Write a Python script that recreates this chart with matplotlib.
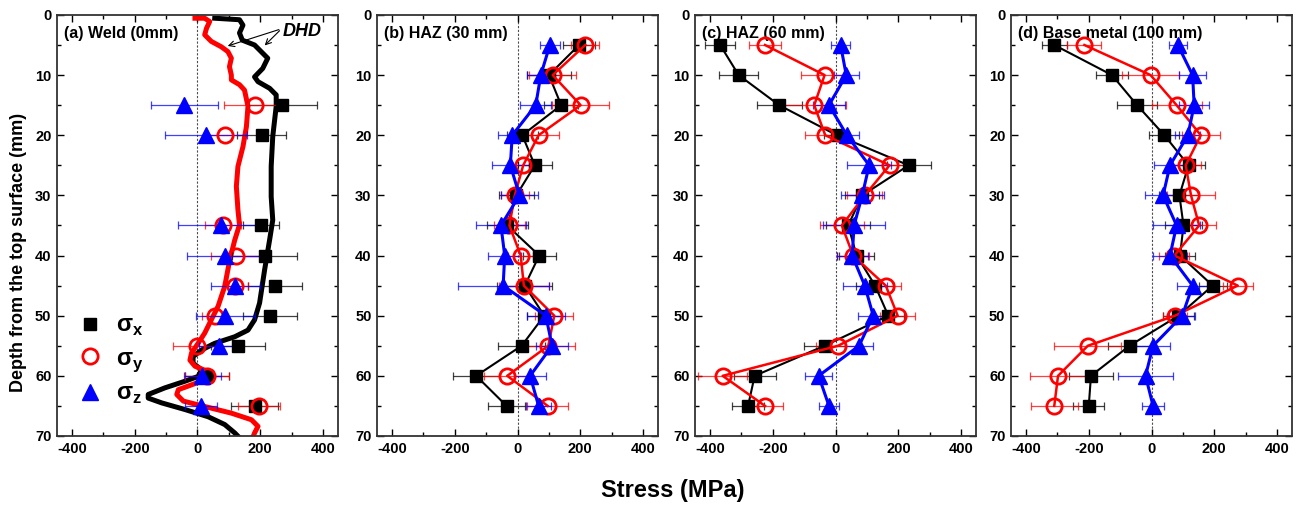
import numpy as np
import matplotlib
matplotlib.use("Agg")
import matplotlib.pyplot as plt
from matplotlib.lines import Line2D
from matplotlib.ticker import MultipleLocator

plt.rcParams['font.family'] = ['Liberation Sans', 'DejaVu Sans']
plt.rcParams['font.weight'] = 'bold'
plt.rcParams['axes.unicode_minus'] = False
plt.rcParams['mathtext.fontset'] = 'custom'
plt.rcParams['mathtext.rm'] = 'Liberation Sans'
plt.rcParams['mathtext.bf'] = 'Liberation Sans:bold'

# ---------------- data ----------------
depth = [5, 10, 15, 20, 25, 30, 35, 40, 45, 50, 55, 60, 65]
depth_a = [15, 20, 35, 40, 45, 50, 55, 60, 65]

# (a) Weld (0mm) - neutron points
a_sx = [270, 205, 203, 214, 248, 232, 129, 29, 182]
a_sx_err = [111, 78, 58, 104, 86, 86, 85, 70, 75]
a_sy = [185, 89, 81, 122, 121, 55, -3, 29, 196]
a_sy_err = [100, 60, 58, 80, 40, 40, 75, 70, 68]
a_sz = [-42, 26, 74, 87, 121, 89, 69, 16, 11]
a_sz_err = [106, 131, 136, 119, 77, 95, 65, 60, 50]

# (a) DHD curves
dhd_x_depth = [0.55, 0.8, 1.7, 3.0, 4.2, 5.0, 6.1, 7.2, 8.9, 10.3, 11.1, 12.2, 13.3, 15.2,
               20.2, 25.2, 30.2, 34.1, 37.4, 42.4, 47.9, 50.7, 52.4, 53.5, 54.6, 55.7, 56.8,
               57.9, 59.0, 60.1, 60.9, 62.0, 63.1, 63.7, 64.5, 65.6, 66.8, 68.1, 69.5, 70.3]
dhd_x = [55, 134, 145, 134, 143, 182, 203, 224, 208, 182, 193, 230, 251, 251,
         240, 235, 235, 240, 230, 214, 198, 182, 161, 119, 55, 13, -14,
         -14, 13, 2, -40, -104, -157, -157, -114, -40, 34, 87, 119, 134]
dhd_y_depth = [0.55, 0.55, 1.1, 2.2, 3.3, 4.4, 5.3, 6.1, 7.2, 8.6, 10.0, 10.8, 11.6, 12.5,
               15.2, 18.6, 21.9, 25.2, 28.5, 32.4, 34.9, 37.4, 40.7, 45.1, 48.4, 50.7, 52.9,
               54.6, 56.2, 57.4, 58.4, 59.3, 60.1, 60.7, 61.5, 62.3, 63.1, 64.2, 65.1, 66.2,
               67.3, 68.4, 69.5, 70.3]
dhd_y = [-8, 23, 39, 29, 23, 44, 76, 97, 108, 102, 108, 108, 134, 150,
         161, 156, 145, 129, 124, 129, 134, 119, 103, 87, 66, 44, 23,
         2, -19, -24, -8, 34, 50, 23, -19, -61, -66, -45, 23, 108,
         172, 193, 182, 176]

# (b) HAZ (30 mm)
b_sx = [196, 100, 139, 15, 55, -4, -33, 69, 23, 85, 13, -132, -35]
b_sx_err = [50, 70, 55, 50, 55, 55, 65, 52, 88, 55, 75, 75, 60]
b_sy = [216, 112, 201, 67, 18, -9, -26, 10, 20, 117, 98, -33, 96]
b_sy_err = [45, 75, 90, 65, 50, 45, 50, 40, 80, 60, 85, 75, 65]
b_sz = [103, 74, 58, -17, -23, 6, -53, -41, -46, 90, 110, 40, 67]
b_sz_err = [33, 45, 50, 45, 60, 60, 80, 52, 145, 60, 50, 50, 40]

# (c) HAZ (60 mm)
c_sx = [-368, -309, -180, 4, 233, 85, 40, 67, 126, 168, -35, -258, -279]
c_sx_err = [48, 62, 72, 40, 70, 55, 70, 55, 60, 50, 65, 67, 52]
c_sy = [-225, -35, -68, -33, 172, 93, 20, 56, 160, 198, 8, -360, -225]
c_sy_err = [50, 75, 100, 65, 60, 55, 70, 50, 50, 55, 70, 78, 58]
c_sz = [16, 34, -21, 36, 107, 85, 59, 53, 93, 120, 75, -54, -21]
c_sz_err = [30, 40, 50, 40, 70, 68, 100, 50, 70, 47, 45, 43, 32]

# (d) Base metal (100 mm)
d_sx = [-310, -126, -46, 41, 118, 89, 102, 91, 195, 86, -70, -193, -200]
d_sx_err = [40, 50, 63, 48, 53, 64, 58, 48, 45, 50, 68, 70, 50]
d_sy = [-214, -3, 80, 157, 109, 126, 152, 73, 275, 75, -203, -298, -310]
d_sy_err = [54, 90, 80, 60, 48, 78, 55, 48, 48, 38, 107, 88, 75]
d_sz = [84, 131, 136, 116, 59, 37, 80, 59, 131, 98, 5, -19, 5]
d_sz_err = [28, 43, 48, 40, 50, 57, 76, 54, 50, 42, 55, 87, 36]

titles = ['(a) Weld (0mm)', '(b) HAZ (30 mm)', '(c) HAZ (60 mm)', '(d) Base metal (100 mm)']

# ---------------- plot ----------------
fig = plt.figure(figsize=(13.06, 5.11), dpi=100)
lefts = [0.0436, 0.2887, 0.5322, 0.7741]
axes = [fig.add_axes([l, 0.1468, 0.2152, 0.824]) for l in lefts]

sty_x = dict(color='black', marker='s', ms=9, mfc='black', mec='black')
sty_y = dict(color='red', marker='o', ms=11, mfc='none', mec='red', mew=2)
sty_z = dict(color='blue', marker='^', ms=11, mfc='blue', mec='blue')


def series(ax, x, xerr, y, sty, lw):
    ax.errorbar(x, y, xerr=xerr, fmt='none', ecolor=sty['color'], elinewidth=0.9,
                capsize=3, capthick=0.9, alpha=0.75, zorder=3)
    ax.plot(x, y, lw=lw, zorder=4, **sty)


# panel a
ax = axes[0]
ax.plot(dhd_x, dhd_x_depth, color='black', lw=3.6, zorder=2)
ax.plot(dhd_y, dhd_y_depth, color='red', lw=3.6, zorder=2)
series(ax, a_sx, a_sx_err, depth_a, sty_x, 0)
series(ax, a_sy, a_sy_err, depth_a, sty_y, 0)
series(ax, a_sz, a_sz_err, depth_a, sty_z, 0)
ax.text(335, 2.7, 'DHD', fontsize=13, fontstyle='italic', fontweight='bold',
        ha='center', va='center')
ax.annotate('', xy=(208, 5.4), xytext=(268, 2.3),
            arrowprops=dict(arrowstyle='->', color='black', lw=0.8))
ax.annotate('', xy=(88, 5.3), xytext=(268, 2.3),
            arrowprops=dict(arrowstyle='->', color='black', lw=0.8))
handles = [Line2D([], [], ls='none', **sty_x), Line2D([], [], ls='none', **sty_y),
           Line2D([], [], ls='none', **sty_z)]
ax.legend(handles, ['σ$_\\mathbf{x}$', 'σ$_\\mathbf{y}$', 'σ$_\\mathbf{z}$'],
          loc='lower left', bbox_to_anchor=(-0.01, 0.02), frameon=False,
          prop=dict(size=17, weight='bold'), labelspacing=0.35, handletextpad=0.5,
          handlelength=1.2)

# panels b-d
for ax, sx, sxe, sy, sye, sz, sze in [
        (axes[1], b_sx, b_sx_err, b_sy, b_sy_err, b_sz, b_sz_err),
        (axes[2], c_sx, c_sx_err, c_sy, c_sy_err, c_sz, c_sz_err),
        (axes[3], d_sx, d_sx_err, d_sy, d_sy_err, d_sz, d_sz_err)]:
    series(ax, sx, sxe, depth, sty_x, 1.5)
    series(ax, sy, sye, depth, sty_y, 1.8)
    series(ax, sz, sze, depth, sty_z, 2.2)

for ax, t in zip(axes, titles):
    ax.axvline(0, color='0.3', ls='--', lw=0.8, dashes=(2, 1.5), zorder=1)
    ax.set_xlim(-448, 448)
    ax.set_ylim(70, 0)
    ax.set_xticks([-400, -200, 0, 200, 400])
    ax.set_yticks(range(0, 71, 10))
    ax.xaxis.set_minor_locator(MultipleLocator(100))
    ax.yaxis.set_minor_locator(MultipleLocator(5))
    ax.tick_params(which='both', direction='in', top=True, right=True, labelsize=10.5, width=1)
    ax.tick_params(which='major', length=5, pad=4)
    ax.tick_params(which='minor', length=3)
    for lab in ax.get_xticklabels() + ax.get_yticklabels():
        lab.set_fontweight('bold')
    for sp in ax.spines.values():
        sp.set_linewidth(1.3)
        sp.set_color('0.2')
    ax.text(0.025, 0.955, t, transform=ax.transAxes, fontsize=11.5, fontweight='bold',
            ha='left', va='center')

axes[0].set_ylabel('Depth from the top surface (mm)', fontsize=13, fontweight='bold', labelpad=6)
axes[0].yaxis.set_label_coords(-0.105, 0.437)
fig.text(0.515, 0.04, 'Stress (MPa)', ha='center', va='center', fontsize=17,
         fontweight='bold')

fig.savefig('out.png', dpi=100)
